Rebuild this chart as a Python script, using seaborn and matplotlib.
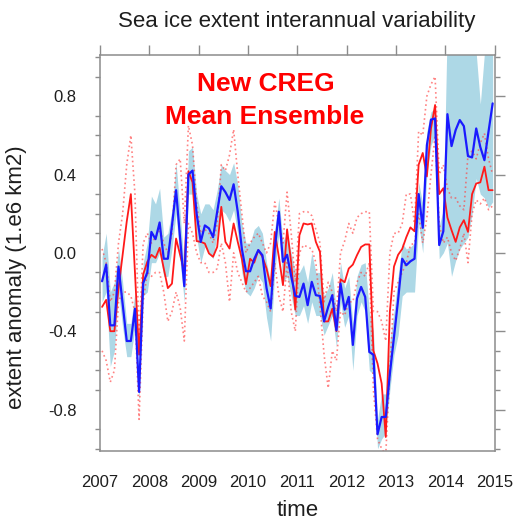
import numpy as np
import matplotlib
matplotlib.use("Agg")
import matplotlib.pyplot as plt
import seaborn as sns
from matplotlib.ticker import MultipleLocator

# ---------------------------------------------------------------- data
years = list(range(2007, 2015))
year_ticks = list(range(2007, 2016))
y_ticks = [-0.8, -0.4, 0.0, 0.4, 0.8]
y_tick_labels = ["-0.8", "-0.4", "0.0", "0.4", "0.8"]

# observed monthly extent anomaly (blue) and its spread (shaded)
obs_mean = [
    -0.145, -0.06, -0.37, -0.37, -0.07, -0.26, -0.45, -0.45, -0.285, -0.71, -0.155, -0.10,
    0.107, 0.07, 0.155, -0.03, -0.03, 0.14, 0.32, 0.07, -0.17, 0.40, 0.42, 0.20,
    0.056, 0.14, 0.125, 0.08, 0.21, 0.34, 0.31, 0.27, 0.35, 0.21, 0.02, -0.094,
    -0.094, -0.032, 0.014, -0.012, -0.18, -0.284, 0.02, 0.21, -0.046, -0.01, -0.12, -0.22,
    -0.225, -0.157, -0.267, -0.148, -0.216, -0.22, -0.35, -0.276, -0.216, -0.395, -0.157, -0.29,
    -0.225, -0.47, -0.233, -0.174, -0.225, -0.506, -0.52, -0.926, -0.838, -0.838, -0.617, -0.43,
    -0.24, -0.03, -0.063, -0.043, -0.03, 0.30, 0.128, 0.55, 0.68, 0.686, 0.04, 0.11,
    0.708, 0.545, 0.627, 0.678, 0.647, 0.494, 0.487, 0.635, 0.54, 0.473, 0.62, 0.763,
]
obs_lo = [
    -0.25, -0.2, -0.58, -0.5, -0.2, -0.38, -0.53, -0.53, -0.38, -0.76, -0.22, -0.2,
    -0.05, -0.05, 0.0, -0.12, -0.12, 0.02, 0.2, -0.05, -0.25, 0.3, 0.3, 0.08,
    -0.05, 0.03, 0.0, -0.03, 0.1, 0.22, 0.2, 0.16, 0.22, 0.1, -0.1, -0.2,
    -0.22, -0.18, -0.12, -0.15, -0.33, -0.45, -0.1, 0.1, -0.15, -0.12, -0.22, -0.32,
    -0.32, -0.27, -0.36, -0.25, -0.32, -0.32, -0.42, -0.37, -0.32, -0.48, -0.25, -0.38,
    -0.32, -0.6, -0.32, -0.25, -0.3, -0.6, -0.62, -1.0, -0.95, -0.92, -0.7, -0.52,
    -0.42, -0.22, -0.2, -0.2, -0.2, 0.15, 0.0, 0.4, 0.55, 0.6, -0.03, 0.0,
    0.05, -0.12, -0.04, 0.02, 0.05, 0.08, 0.2, 0.38, 0.3, 0.28, 0.23, 0.26,
]
obs_hi = [
    -0.02, 0.1, -0.2, -0.15, 0.02, -0.15, -0.36, -0.36, -0.2, -0.66, -0.05, 0.05,
    0.29, 0.25, 0.33, 0.08, 0.1, 0.22, 0.46, 0.2, -0.08, 0.52, 0.54, 0.3,
    0.2, 0.25, 0.25, 0.22, 0.32, 0.45, 0.42, 0.4, 0.46, 0.35, 0.15, 0.05,
    0.05, 0.12, 0.14, 0.1, -0.05, -0.15, 0.12, 0.28, 0.06, 0.1, 0.0, -0.1,
    -0.1, -0.06, -0.15, 0.0, -0.1, -0.1, -0.22, -0.18, -0.1, -0.3, -0.05, -0.18,
    -0.12, -0.36, -0.12, -0.06, -0.05, -0.3, -0.4, -0.85, -0.72, -0.72, -0.45, -0.3,
    -0.12, 0.05, 0.02, 0.03, 0.05, 0.36, 0.25, 0.62, 0.72, 0.74, 0.14, 0.22,
    1.2, 1.2, 1.2, 1.2, 1.2, 1.2, 1.2, 1.02, 0.76, 1.02, 1.2, 1.2,
]

# CREG ensemble mean (red) and ensemble envelope (dotted)
creg_mean = [
    -0.276, -0.24, -0.40, -0.40, -0.18, -0.01, 0.16, 0.30, -0.10, -0.52, -0.11, -0.046,
    -0.01, -0.026, 0.026, -0.08, -0.18, -0.157, 0.073, -0.012, -0.097, 0.417, 0.36, 0.06,
    0.056, 0.048, -0.003, -0.02, 0.03, 0.235, 0.056, 0.022, 0.15, 0.056, -0.03, -0.16,
    -0.03, -0.05, 0.014, -0.02, -0.08, -0.17, 0.107, -0.02, -0.165, 0.12, -0.05, -0.29,
    0.09, 0.15, 0.145, 0.15, 0.056, 0.005, -0.35, -0.35, -0.285, -0.40, -0.135, -0.15,
    -0.08, -0.06, -0.012, 0.03, 0.043, 0.043, -0.50, -0.565, -0.667, -0.94, -0.30, -0.07,
    -0.01, 0.02, 0.08, 0.13, 0.11, 0.45, 0.51, 0.39, 0.635, 0.755, 0.30, 0.33,
    0.18, 0.116, 0.056, 0.13, 0.167, 0.107, 0.30, 0.354, 0.36, 0.44, 0.32, 0.32,
]
creg_lo = [
    -0.5, -0.55, -0.66, -0.6, -0.25, -0.2, -0.2, -0.22, -0.3, -0.85, -0.25, -0.1,
    -0.12, -0.1, -0.1, -0.2, -0.35, -0.3, -0.2, -0.28, -0.45, 0.15, 0.1, 0.0,
    -0.05, -0.05, -0.1, -0.1, -0.08, 0.05, -0.05, -0.25, 0.0, -0.1, -0.15, -0.2,
    -0.18, -0.15, -0.12, -0.22, -0.25, -0.3, -0.05, -0.22, -0.3, -0.05, -0.3, -0.4,
    0.0, 0.04, 0.03, 0.02, -0.05, -0.27, -0.52, -0.69, -0.5, -0.55, -0.3, -0.32,
    -0.25, -0.25, -0.15, -0.1, -0.12, -0.05, -0.7, -0.95, -1.0, -1.03, -0.6, -0.2,
    -0.15, -0.1, -0.05, 0.04, 0.05, 0.2, 0.05, 0.18, 0.4, 0.6, 0.15, 0.05,
    0.08, 0.0, -0.04, 0.02, 0.1, -0.05, 0.2, 0.27, 0.25, 0.28, 0.22, 0.24,
]
creg_hi = [
    0.02, -0.05, -0.25, -0.2, 0.05, 0.2, 0.45, 0.6, 0.3, -0.45, 0.05, 0.1,
    0.05, 0.08, 0.12, 0.05, 0.0, 0.1, 0.45, 0.48, 0.15, 0.65, 0.55, 0.25,
    0.1, 0.12, 0.1, 0.05, 0.15, 0.45, 0.42, 0.5, 0.63, 0.4, 0.2, 0.0,
    0.05, 0.08, 0.1, 0.05, 0.0, 0.05, 0.26, 0.15, 0.05, 0.31, 0.1, -0.15,
    0.2, 0.21, 0.21, 0.19, 0.12, 0.05, -0.25, -0.15, -0.2, -0.3, 0.0, 0.06,
    0.15, 0.1, 0.18, 0.2, 0.21, 0.21, -0.3, -0.3, -0.35, -0.45, 0.0, 0.1,
    0.1, 0.15, 0.3, 0.3, 0.15, 0.62, 0.6, 0.8, 0.86, 0.9, 0.4, 0.45,
    0.33, 0.28, 0.28, 0.24, 0.22, 0.5, 0.52, 0.48, 0.56, 0.61, 0.48, 0.4,
]

# mid-month time axis in decimal years
time = np.array([y + (m + 0.5) / 12.0 for y in years for m in range(12)])

# ---------------------------------------------------------------- style
sns.set_style("white")
plt.rcParams["font.family"] = ["Liberation Sans", "DejaVu Sans"]
text_col = "#1e1e1e"
axis_col = "#8c8c8c"

fig = plt.figure(figsize=(5.15, 5.22), dpi=100)
ax = fig.add_axes([0.1942, 0.1366, 0.7664, 0.7580])

# observed spread
ax.fill_between(time, obs_lo, obs_hi, color="#ADD8E6", linewidth=0, zorder=1)

# ensemble envelope
for env in (creg_lo, creg_hi):
    sns.lineplot(x=time, y=env, ax=ax, color="#ff4040", linewidth=1.2,
                 linestyle=(0, (1, 1.8)), alpha=0.65, zorder=2)

# ensemble mean and observations
sns.lineplot(x=time, y=creg_mean, ax=ax, color="#ff1a1a", linewidth=1.3, zorder=3)
sns.lineplot(x=time, y=obs_mean, ax=ax, color="#1a1aff", linewidth=1.6, zorder=4)

# ---------------------------------------------------------------- axes
ax.set_xlim(2007, 2015)
ax.set_ylim(-1.01, 1.01)
ax.set_xticks(year_ticks)
ax.set_xticklabels([str(y) for y in year_ticks])
ax.set_yticks(y_ticks)
ax.set_yticklabels(y_tick_labels)
ax.yaxis.set_minor_locator(MultipleLocator(0.1))

ax.tick_params(axis="both", which="both", direction="out", colors=axis_col,
               labelcolor=text_col, labelsize=12, top=True, right=True,
               labeltop=False, labelright=False)
ax.tick_params(axis="x", which="major", length=7.2, width=1.0, pad=10.5)
ax.tick_params(axis="y", which="major", length=7.2, width=1.0, pad=9.5)
ax.tick_params(axis="y", which="minor", length=3.8, width=1.0, left=True, right=True)
ax.tick_params(axis="x", which="minor", length=0)

for sp in ax.spines.values():
    sp.set_visible(True)
    sp.set_color(axis_col)
    sp.set_linewidth(1.1)

ax.set_xlabel("time", fontsize=16, color=text_col)
ax.xaxis.label.set_va("baseline")
ax.xaxis.set_label_coords(0.5, -0.165)
ax.set_ylabel("extent anomaly (1.e6 km2)", fontsize=16, color=text_col)
ax.yaxis.label.set_va("center")
ax.yaxis.set_label_coords(-0.2115, 0.439)

fig.text(297 / 515, 1 - 27.5 / 522, "Sea ice extent interannual variability",
         ha="center", va="baseline", fontsize=16, color=text_col)

fig.text(266 / 515, 1 - 91 / 522, "New CREG", ha="center", va="baseline",
         fontsize=19, fontweight="bold", color="#ff0000")
fig.text(265 / 515, 1 - 124 / 522, "Mean Ensemble", ha="center", va="baseline",
         fontsize=19, fontweight="bold", color="#ff0000")

fig.savefig("out.png", dpi=100)
